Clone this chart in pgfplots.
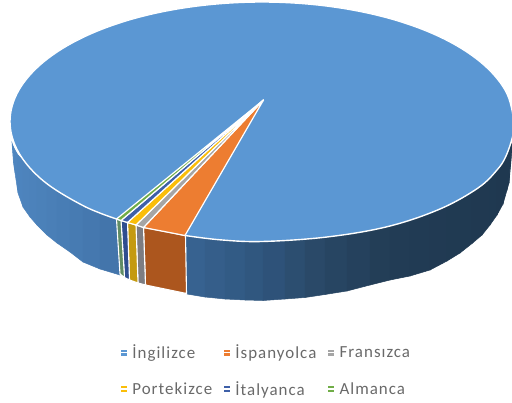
\documentclass[border=0pt]{standalone}
\usepackage{pgfplots}
\pgfplotsset{compat=1.18}
\usepackage{fontspec}
\setmainfont[LetterSpace=6]{Carlito}
\definecolor{cA}{RGB}{91,151,211}
\definecolor{cB}{RGB}{237,125,49}
\definecolor{cC}{RGB}{165,165,165}
\definecolor{cD}{RGB}{250,190,10}
\definecolor{cE}{RGB}{62,96,168}
\definecolor{cF}{RGB}{112,173,71}
\definecolor{legtext}{RGB}{105,105,105}
\begin{document}
\begin{tikzpicture}
\useasboundingbox (0,0) rectangle (512bp,403bp);
\begin{axis}[
  at={(0,0)}, anchor=south west,
  scale only axis, width=512bp, height=403bp,
  xmin=0, xmax=512, ymin=0, ymax=403, y dir=reverse,
  hide axis, clip=true,
  point meta min=0, point meta max=512,
  colormap={wall}{rgb255(0)=(80,136,194) rgb255(115)=(66,116,170) rgb255(187)=(56,100,146) rgb255(263)=(47,85,125) rgb255(320)=(41,72,102) rgb255(390)=(34,60,85) rgb255(512)=(31,56,80)},
  legend columns=3,
  legend cell align=left,
  legend style={at={(axis cs:120,343)}, anchor=north west, draw=none, fill=none,
    font=\fontsize{17}{20}\selectfont, text=legtext, row sep=17bp,
    inner sep=0pt, outer sep=0pt,
    /tikz/every even column/.append style={column sep=9bp}},
  legend image code/.code={\fill[#1,draw=none] (0bp,-2.9bp) rectangle (5.8bp,3.1bp); \path (0bp,0bp) -- (9bp,0bp);},
]
% side walls
\addplot[surf, shader=faceted, faceted color=mapped color, line width=0.5pt, mesh/rows=2, mesh/ordering=x varies, point meta=x, forget plot] table {
x y
12 143
13 146
15 150
18 155
23 160
30 165
37 171
47 180
57 187
70 196
83 203
100 211
118 218
12 143
13.5 163
15 173
18 193
23 207
30 217
37 225
47 235
57 243
70 252
83 262
100 269
120 275
};
\addplot[surf, shader=faceted, faceted color=mapped color, line width=0.5pt, mesh/rows=2, mesh/ordering=x varies, point meta=x, forget plot] table {
x y
186 232
205 235
225 237
245 238
263 238.5
285 238
305 236
325 235
347 232
370 228
390 223
410 217
430 209
447 202.5
460 194
472 188
482 182
490 175
497 167
503 159
507 152
511 145
512 143
187 294
205 297
225 299
245 300
263 300.5
285 299
305 297.5
325 294.5
347 291
370 285
390 280
410 276
430 270
447 261
460 253
472 243.5
482 235
490 225
497 215
503 204
507 190
509 183
512 150
};
\addplot[fill={rgb,255:red,172;green,86;blue,30}, draw=white, line width=1.1pt, forget plot] coordinates {(143.5,227.5) (185.5,235.5) (186.5,293.5) (145.5,285)} --cycle;
\addplot[fill={rgb,255:red,125;green,125;blue,130}, draw=white, line width=1.1pt, forget plot] coordinates {(136,225) (143.5,227.5) (145.5,285) (138,283)} --cycle;
\addplot[fill={rgb,255:red,196;green,154;blue,16}, draw=white, line width=1.1pt, forget plot] coordinates {(127.5,222.5) (136,225) (138,283) (129.5,280)} --cycle;
\addplot[fill={rgb,255:red,47;green,78;blue,143}, draw=white, line width=1.1pt, forget plot] coordinates {(121,220.5) (127.5,222.5) (129.5,280) (124.5,277.5)} --cycle;
\addplot[fill={rgb,255:red,96;green,140;blue,100}, draw=white, line width=1.1pt, forget plot] coordinates {(116.5,219) (121,220.5) (124.5,277.5) (120,274)} --cycle;
% top face
\addplot[fill=cA, draw=white, line width=1.4pt, smooth, tension=0.6] coordinates {
(185,235.5) (220,239.8) (262,241.5) (327,237) (388,226.5) (440,209) (478,188) (497,170) (506,156) (513,135)
(514,121.5) (505.4,90.6) (480.2,61.75) (440.2,37) (388,18) (327.2,6.1) (262,2) (196.8,6.1) (136,18) (83.8,37) (43.8,61.75) (18.6,90.6) (10,121.5)
(18.6,152.4) (43.8,181.25) (83.8,206) (116.5,219)
} --cycle;
\addlegendentry{İngilizce}
\addplot[fill=cB, draw=white, line width=1.2pt, line join=round] coordinates {(263.5,100) (143.5,227.5) (185,235.5)} --cycle;
\addlegendentry{İspanyolca}
\addplot[fill=cC, draw=white, line width=1.2pt, line join=round] coordinates {(263.5,100) (136,225) (143.5,227.5)} --cycle;
\addlegendentry{Fransızca}
\addplot[fill=cD, draw=white, line width=1.2pt, line join=round] coordinates {(263.5,100) (127.5,222.5) (136,225)} --cycle;
\addlegendentry{Portekizce}
\addplot[fill=cE, draw=white, line width=1.2pt, line join=round] coordinates {(263.5,100) (121,220.5) (127.5,222.5)} --cycle;
\addlegendentry{İtalyanca}
\addplot[fill=cF, draw=white, line width=1.2pt, line join=round] coordinates {(263.5,100) (116.5,219) (121,220.5)} --cycle;
\addlegendentry{Almanca}
\end{axis}
\end{tikzpicture}
\end{document}
